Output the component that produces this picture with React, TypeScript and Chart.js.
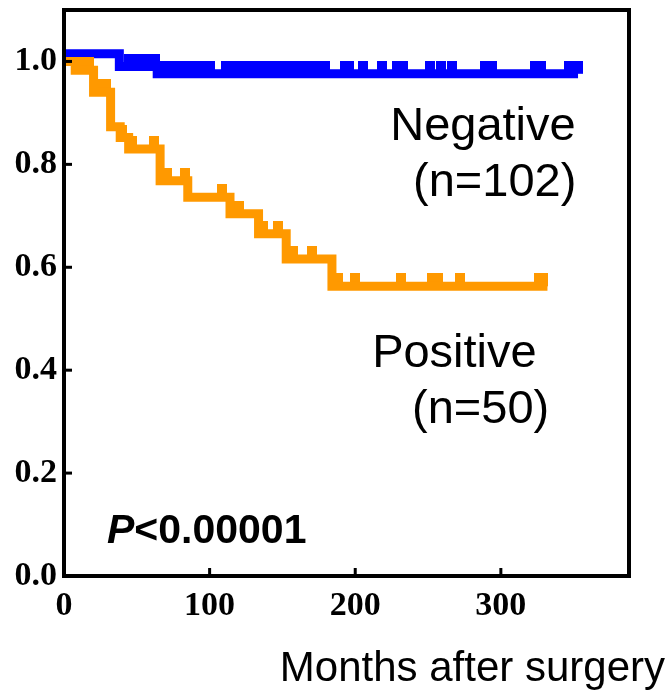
import React, { useRef, useEffect } from "react";
import { Chart, registerables } from "chart.js";

Chart.register(...registerables);

// Kaplan-Meier curves: month where each level starts, and the survival level
const negTimes = [0, 38, 64];
const negSurv = [1.015, 0.99, 0.976];
const negEnd = 353;
// censored cases (months)
const negCensor = [
    44.5, 49, 53.5, 58, 62.5, 69.5, 74, 78.5, 83, 87.5, 92, 96.5, 100.5,
    111.5, 116, 120.5, 125, 129.5, 134, 138.5, 143, 147.5, 152, 156.5, 161,
    165.5, 170, 174.5, 179, 193, 196, 205, 218.5, 229, 233, 251, 259, 266.5,
    289, 294, 323.5, 327.5, 347, 353,
];

const posTimes = [0, 7.7, 20.3, 32, 38.6, 44.4, 66, 85, 114, 133.6, 152.6, 184];
const posSurv = [1.0, 0.983, 0.94, 0.873, 0.852, 0.83, 0.768, 0.736, 0.704, 0.665, 0.616, 0.563];
const posEnd = 332;
const posCensor = [
    13, 17.5, 25, 29, 40, 47, 61.5, 71, 83, 108.5, 120, 137, 147, 157, 170.5,
    188, 199.5, 231.5, 253, 257, 272, 326, 329,
];

const xTicks = [0, 100, 200, 300];
const yTicks = [0, 0.2, 0.4, 0.6, 0.8, 1.0];

const BLUE = "#0000ff";
const ORANGE = "#ff9900";
const LINE_W = 9;

const levelAt = (times: number[], surv: number[], t: number) => {
    let v = surv[0];
    times.forEach((tt, i) => {
        if (tt <= t) v = surv[i];
    });
    return v;
};

const curve = (times: number[], surv: number[], end: number) => [
    ...times.map((t, i) => ({ x: t, y: surv[i] })),
    { x: end, y: surv[surv.length - 1] },
];

const censorPoints = (times: number[], surv: number[], marks: number[]) =>
    marks.map(t => ({ x: t, y: levelAt(times, surv, t) }));

// little block sitting on top of the line
const makeMark = (color: string) => {
    const c = document.createElement("canvas");
    c.width = 10;
    c.height = 26;
    const g = c.getContext("2d");
    if (g) {
        g.fillStyle = color;
        g.fillRect(0, 0, 10, 13);
    }
    return c;
};

const decorPlugin = {
    id: "decor",
    afterDraw(chart: any) {
        const { ctx, chartArea: a, scales } = chart;
        const xs = scales.x;
        const ys = scales.y;
        ctx.save();
        ctx.strokeStyle = "#000";
        ctx.lineWidth = 4;
        ctx.strokeRect(a.left, a.top, a.right - a.left, a.bottom - a.top);

        // inward tick marks
        ctx.lineWidth = 3;
        xTicks.slice(1).forEach(v => {
            const px = xs.getPixelForValue(v);
            ctx.beginPath();
            ctx.moveTo(px, a.bottom);
            ctx.lineTo(px, a.bottom - 8);
            ctx.stroke();
        });
        yTicks.slice(1).forEach(v => {
            const py = ys.getPixelForValue(v);
            ctx.beginPath();
            ctx.moveTo(a.left, py);
            ctx.lineTo(a.left + 8, py);
            ctx.stroke();
        });

        ctx.fillStyle = "#000";
        ctx.textBaseline = "alphabetic";
        ctx.textAlign = "left";
        ctx.font = '47px "Liberation Sans"';
        ctx.fillText("Negative", xs.getPixelForValue(224), ys.getPixelForValue(0.847));
        ctx.fillText("(n=102)", xs.getPixelForValue(239.7), ys.getPixelForValue(0.739));
        ctx.fillText("Positive", xs.getPixelForValue(211.6), ys.getPixelForValue(0.406));
        ctx.fillText("(n=50)", xs.getPixelForValue(239), ys.getPixelForValue(0.297));

        const px = xs.getPixelForValue(29.5);
        const py = ys.getPixelForValue(0.064);
        ctx.font = 'italic bold 41px "Liberation Sans"';
        ctx.fillText("P", px, py);
        const w = ctx.measureText("P").width;
        ctx.font = 'bold 41px "Liberation Sans"';
        ctx.fillText("<0.00001", px + w, py);

        // axis title
        ctx.font = '42px "Liberation Sans"';
        ctx.textAlign = "right";
        ctx.fillText("Months after surgery", chart.width - 5, 681);
        ctx.restore();
    },
};

const App: React.FC = () => {
    const canvasRef = useRef<HTMLCanvasElement | null>(null);
    const chartRef = useRef<Chart | null>(null);

    useEffect(() => {
        if (!canvasRef.current) return;
        if (chartRef.current) chartRef.current.destroy();

        const tickFont = { family: '"Liberation Serif"', size: 34, weight: "bold" as const };

        chartRef.current = new Chart(canvasRef.current, {
            type: "line",
            data: {
                datasets: [
                    {
                        data: curve(negTimes, negSurv, negEnd),
                        borderColor: BLUE,
                        borderWidth: LINE_W,
                        stepped: true,
                        pointRadius: 0,
                        fill: false,
                        order: 2,
                    },
                    {
                        data: censorPoints(negTimes, negSurv, negCensor),
                        showLine: false,
                        pointStyle: makeMark(BLUE),
                        pointRadius: 5,
                        order: 2,
                    },
                    {
                        data: curve(posTimes, posSurv, posEnd),
                        borderColor: ORANGE,
                        borderWidth: LINE_W,
                        stepped: true,
                        pointRadius: 0,
                        fill: false,
                        order: 1,
                    },
                    {
                        data: censorPoints(posTimes, posSurv, posCensor),
                        showLine: false,
                        pointStyle: makeMark(ORANGE),
                        pointRadius: 5,
                        order: 1,
                    },
                ],
            },
            options: {
                animation: false,
                responsive: true,
                maintainAspectRatio: false,
                layout: { padding: { top: 10, right: 41, left: 0, bottom: 0 } },
                plugins: {
                    legend: { display: false },
                    tooltip: { enabled: false },
                },
                scales: {
                    x: {
                        type: "linear",
                        min: 0,
                        max: 388,
                        afterBuildTicks: (axis: any) => {
                            axis.ticks = xTicks.map(v => ({ value: v }));
                        },
                        afterFit: (axis: any) => {
                            axis.height = 118;
                            axis.paddingLeft = 0;
                            axis.paddingRight = 0;
                        },
                        grid: { display: false, drawTicks: false },
                        border: { display: false },
                        ticks: {
                            padding: 10,
                            color: "#000",
                            font: tickFont,
                            maxRotation: 0,
                            autoSkip: false,
                        },
                    },
                    y: {
                        type: "linear",
                        min: 0,
                        max: 1.1,
                        afterBuildTicks: (axis: any) => {
                            axis.ticks = yTicks.map(v => ({ value: v }));
                        },
                        afterFit: (axis: any) => {
                            axis.width = 64;
                            axis.paddingTop = 0;
                            axis.paddingBottom = 0;
                        },
                        grid: { display: false, drawTicks: false },
                        border: { display: false },
                        ticks: {
                            padding: 7,
                            color: "#000",
                            font: tickFont,
                            callback: (v: any) => Number(v).toFixed(1),
                        },
                    },
                },
            },
            plugins: [decorPlugin],
        } as any);

        return () => {
            if (chartRef.current) {
                chartRef.current.destroy();
                chartRef.current = null;
            }
        };
    }, []);

    return (
        <div style={{ position: "absolute", left: 0, top: 0, width: 670, height: 694, background: "#fff" }}>
            <canvas ref={canvasRef}></canvas>
        </div>
    );
};

export default App;
